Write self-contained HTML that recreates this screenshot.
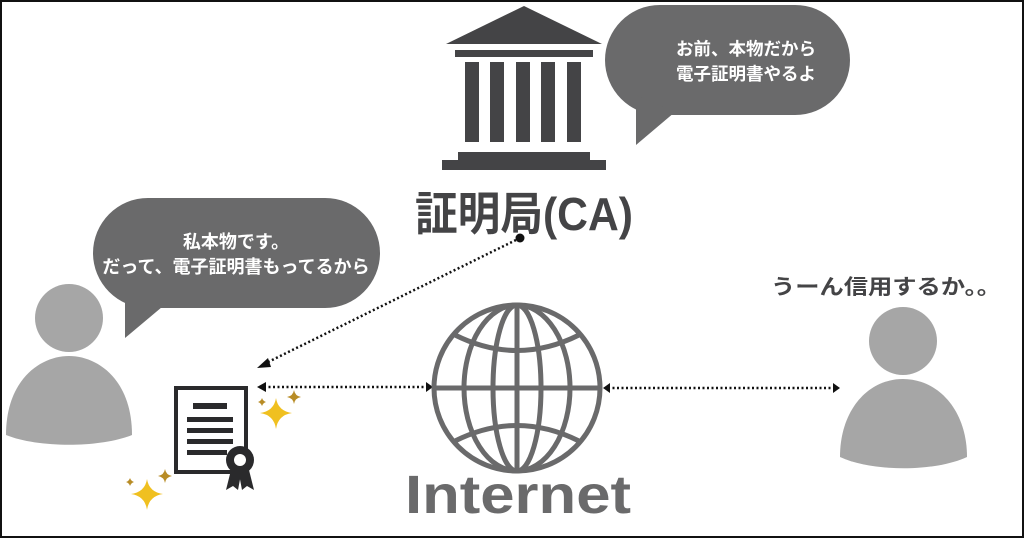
<!DOCTYPE html>
<html><head><meta charset="utf-8"><style>
html,body{margin:0;padding:0;background:#fff}
svg{display:block}
text{font-family:"Liberation Sans","Noto Sans CJK JP",sans-serif;font-weight:bold}
</style></head><body>
<svg width="1024" height="538" viewBox="0 0 1024 538" xmlns="http://www.w3.org/2000/svg">
<rect x="1" y="1" width="1022" height="536" fill="#fff" stroke="#111" stroke-width="2"/>
<!-- bank -->
<g fill="#444446">
<polygon points="524,6 446,44 602,44"/>
<rect x="455" y="50" width="138" height="7"/>
<rect x="465" y="62" width="14" height="80"/>
<rect x="490" y="62" width="14" height="80"/>
<rect x="516" y="62" width="14" height="80"/>
<rect x="541" y="62" width="14" height="80"/>
<rect x="567" y="62" width="14" height="80"/>
<rect x="458" y="152" width="132" height="9"/>
<rect x="442" y="160" width="164" height="10"/>
</g>
<text x="415" y="230" font-size="46" fill="#444446" textLength="218" lengthAdjust="spacingAndGlyphs">証明局(CA)</text>
<!-- top right bubble -->
<g fill="#6a6a6b">
<rect x="605" y="5" width="245" height="110" rx="55"/>
<polygon points="636,95 636,145 675,112"/>
</g>
<text x="746" y="55" font-size="17.5" fill="#fff" text-anchor="middle">お前、本物だから</text>
<text x="746" y="80" font-size="17.5" fill="#fff" text-anchor="middle">電子証明書やるよ</text>
<!-- left bubble -->
<g fill="#6a6a6b">
<rect x="93" y="198" width="287" height="110" rx="55"/>
<polygon points="125,290 125,338 162,307"/>
</g>
<text x="236" y="248" font-size="18" fill="#fff" text-anchor="middle">私本物です。</text>
<text x="236" y="273" font-size="18" fill="#fff" text-anchor="middle">だって、電子証明書もってるから</text>
<!-- left person -->
<g fill="#a6a6a6">
<circle cx="69" cy="318" r="34"/>
<path d="M6,435 C6,380 40,356 69,356 C98,356 132,380 132,435 C100,448 38,448 6,435Z"/>
</g>
<!-- certificate -->
<rect x="176" y="388" width="70" height="84" fill="#fff" stroke="#2a2a2c" stroke-width="4"/>
<g fill="#2a2a2c">
<rect x="193" y="403" width="34" height="6"/>
<rect x="187" y="417" width="46" height="5"/>
<rect x="187" y="428" width="46" height="5"/>
<rect x="187" y="439" width="46" height="5"/>
<rect x="187" y="450" width="40" height="5"/>
<circle cx="240" cy="460" r="14"/>
<polygon points="231,470 226,490 233,486 238,490 241,474"/>
<polygon points="249,470 254,490 247,486 242,490 239,474"/>
</g>
<circle cx="240" cy="460" r="6" fill="#fff"/>
<!-- sparkles -->
<g>
<path d="M276,398 Q278,411 292,413 Q278,415 276,429 Q274,415 260,413 Q274,411 276,398Z" fill="#f0c020"/>
<path d="M294,390 Q295,396 301,397 Q295,398 294,404 Q293,398 287,397 Q293,396 294,390Z" fill="#b88c26"/>
<path d="M262,398 Q263,401 266,402 Q263,403 262,406 Q261,403 258,402 Q261,401 262,398Z" fill="#b88c26"/>
<path d="M147,479 Q149,492 163,494 Q149,496 147,510 Q145,496 131,494 Q145,492 147,479Z" fill="#f0c020"/>
<path d="M165,469 Q166,475 172,476 Q166,477 165,483 Q164,477 158,476 Q164,475 165,469Z" fill="#b88c26"/>
<path d="M130,478 Q131,481 134,482 Q131,483 130,486 Q129,483 126,482 Q129,481 130,478Z" fill="#b88c26"/>
</g>
<!-- arrows -->
<g stroke="#111" stroke-width="2.5" stroke-dasharray="2,2.5" fill="none">
<line x1="520" y1="238" x2="264" y2="364"/>
<line x1="264" y1="387" x2="428" y2="387"/>
<line x1="608" y1="388" x2="835" y2="388"/>
</g>
<circle cx="520" cy="238" r="4.5" fill="#111"/>
<g fill="#111">
<polygon points="257,368 268,358 271,367"/>
<polygon points="257,387 266,382 266,392"/>
<polygon points="433,387 426,382 426,392"/>
<polygon points="603,388 610,383 610,393"/>
<polygon points="840,388 833,383 833,393"/>
</g>
<!-- globe -->
<g fill="none" stroke="#6a6a6b" stroke-width="5">
<ellipse cx="517" cy="388" rx="83" ry="83"/>
<ellipse cx="517" cy="388" rx="53" ry="83"/>
<ellipse cx="517" cy="388" rx="24" ry="83"/>
<line x1="517" y1="305" x2="517" y2="471"/>
<line x1="434" y1="388" x2="600" y2="388"/>
<path d="M455,335 Q517,366 579,335"/>
<path d="M455,441 Q517,410 579,441"/>
</g>
<text x="405" y="513" font-size="54" fill="#6a6a6b" textLength="226" lengthAdjust="spacingAndGlyphs">Internet</text>
<!-- right -->
<text x="771" y="294" font-size="21" fill="#444446" textLength="230" lengthAdjust="spacingAndGlyphs">うーん信用するか。。</text>
<g fill="#a6a6a6">
<circle cx="903" cy="341" r="34"/>
<path d="M840,457 C840,410 868,379 903,379 C938,379 967,410 967,457 C935,472 872,472 840,457Z"/>
</g>
</svg>
</body></html>
